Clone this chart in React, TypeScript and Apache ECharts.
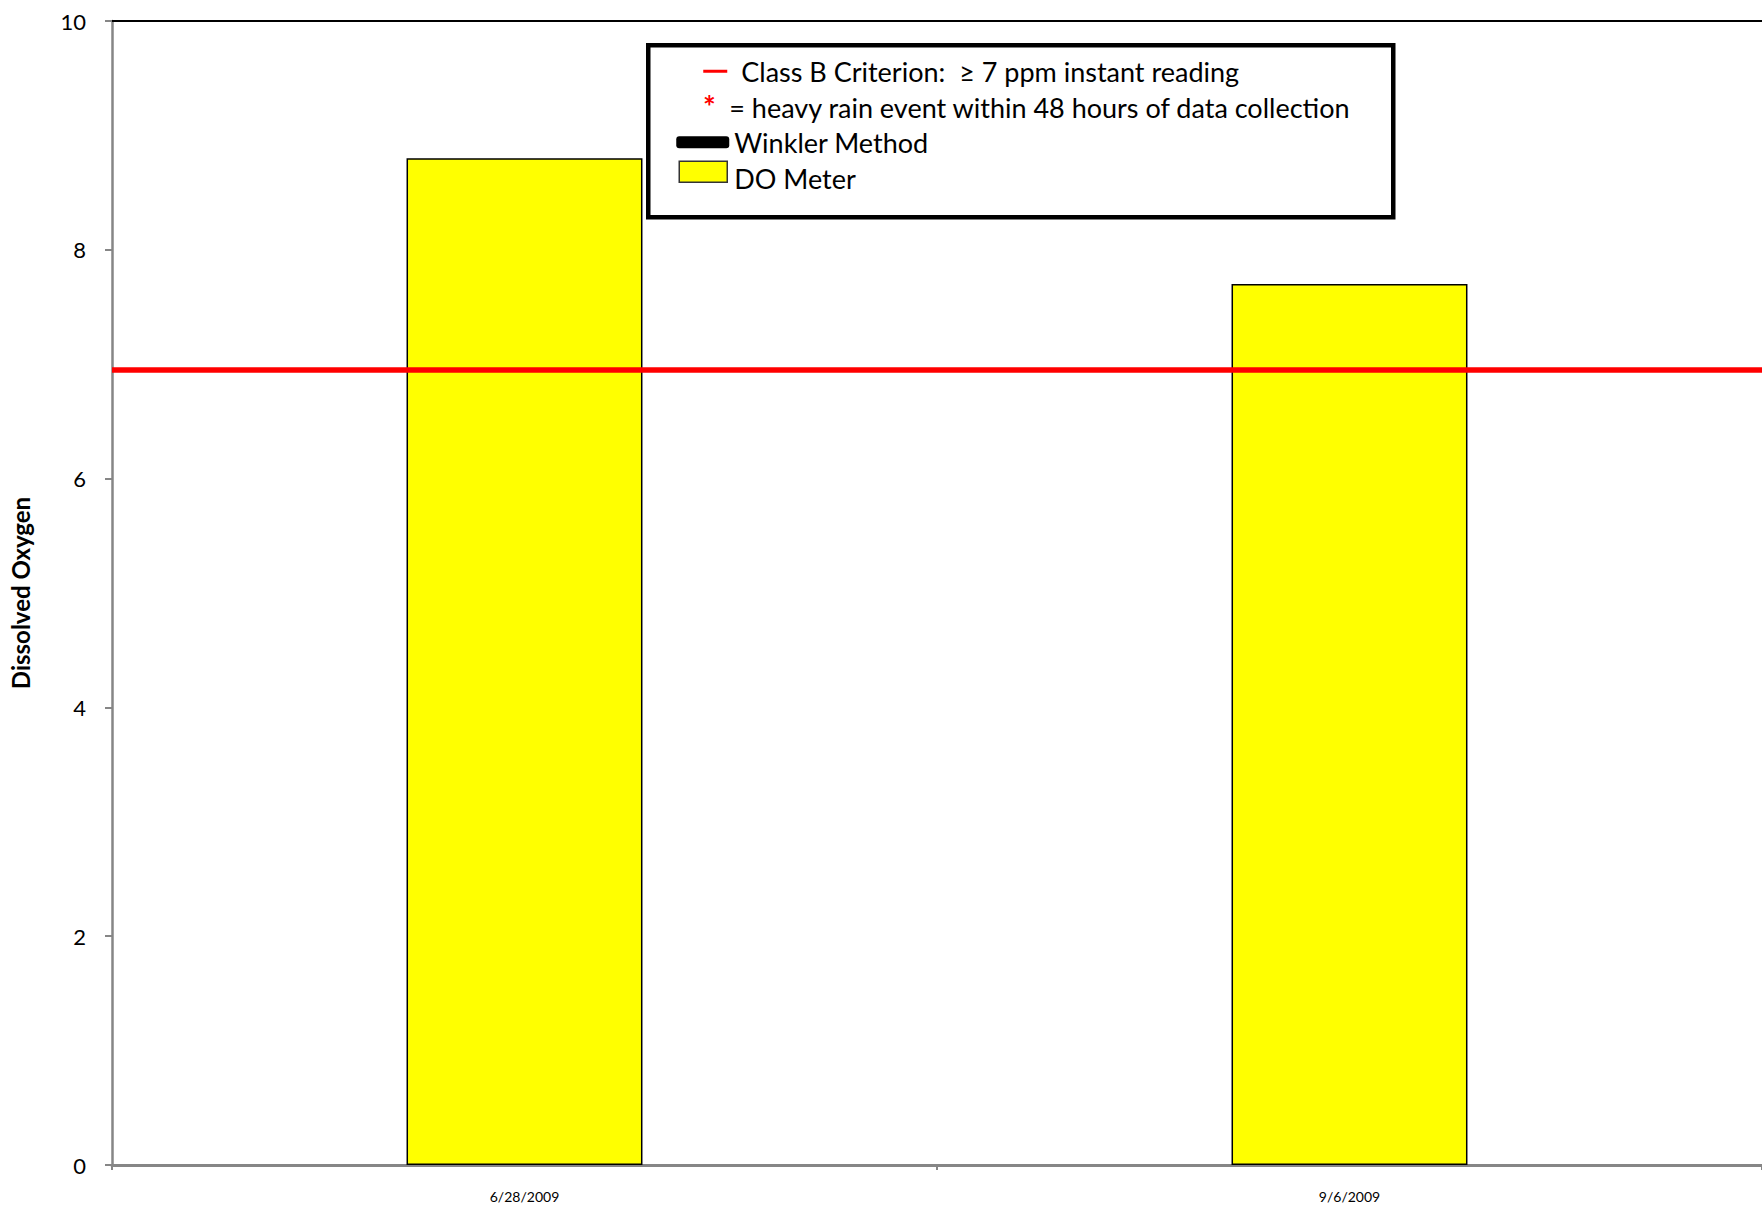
import React, { useEffect, useRef } from "react";
import * as echarts from "echarts";

// Sampling dates and dissolved oxygen readings (ppm)
const dates = ["6/28/2009", "9/6/2009"];
const doMeter = [8.8, 7.7];
const winkler: (number | null)[] = [null, null];
const criterion = 6.95;
const yTicks = [0, 2, 4, 6, 8, 10];

const FONT = "Lato, 'Open Sans', sans-serif";

export default function App() {
  const ref = useRef<HTMLDivElement>(null);

  useEffect(() => {
    if (!ref.current) return;
    const chart = echarts.init(ref.current, null, { renderer: "svg" });

    const legendX = 646;
    const legendY = 43;
    const rowFont = `27px ${FONT}`;

    chart.setOption({
      animation: false,
      backgroundColor: "#ffffff",
      grid: { left: 106, top: 21, right: 0, bottom: 44 },
      xAxis: [
        {
          type: "category",
          data: dates,
          axisLine: { lineStyle: { color: "#868686", width: 3 } },
          axisTick: { show: true, length: 5, lineStyle: { color: "#868686", width: 2 } },
          axisLabel: { fontFamily: FONT, fontSize: 14, color: "#000", margin: 24 },
          splitLine: { show: false },
        },
        {
          type: "category",
          position: "top",
          data: dates,
          axisLine: { lineStyle: { color: "#000", width: 2 } },
          axisTick: { show: false },
          axisLabel: { show: false },
        },
      ],
      yAxis: {
        type: "value",
        min: yTicks[0],
        max: yTicks[yTicks.length - 1],
        interval: 2,
        name: "Dissolved Oxygen",
        nameLocation: "middle",
        nameRotate: 90,
        nameGap: 80,
        nameTextStyle: { fontFamily: FONT, fontSize: 24, fontWeight: "bold", color: "#000" },
        axisLine: { show: true, lineStyle: { color: "#868686", width: 2.5 } },
        axisTick: { show: true, length: 7, lineStyle: { color: "#868686", width: 2 } },
        axisLabel: { fontFamily: FONT, fontSize: 22, color: "#000", margin: 26 },
        splitLine: { show: false },
      },
      series: [
        {
          name: "Winkler Method",
          type: "bar",
          data: winkler,
          barWidth: "28.6%",
          barGap: "-100%",
          itemStyle: { color: "#000" },
        },
        {
          name: "DO Meter",
          type: "bar",
          data: doMeter,
          barWidth: "28.6%",
          barGap: "-100%",
          itemStyle: { color: "#ffff00", borderColor: "#000", borderWidth: 1.5 },
          markLine: {
            silent: true,
            symbol: ["none", "none"],
            label: { show: false },
            lineStyle: { color: "#ff0000", width: 5.5, type: "solid" },
            data: [{ yAxis: criterion }],
          },
        },
      ],
      graphic: [
        {
          type: "group",
          left: legendX,
          top: legendY,
          children: [
            {
              type: "rect",
              shape: { x: 0, y: 0, width: 745, height: 172 },
              style: { fill: "#fff", stroke: "#000", lineWidth: 4.5 },
            },
            {
              type: "rect",
              shape: { x: 55, y: 24.5, width: 24, height: 3 },
              style: { fill: "#ff0000" },
            },
            {
              type: "text",
              x: 93,
              y: 26,
              style: {
                text: "Class B Criterion:  \u2265 7 ppm instant reading",
                font: rowFont,
                fill: "#000",
                verticalAlign: "middle",
              },
            },
            {
              type: "text",
              x: 61,
              y: 61,
              style: {
                text: "*",
                font: `bold 30px ${FONT}`,
                fill: "#ff0000",
                align: "center",
                verticalAlign: "middle",
              },
            },
            {
              type: "text",
              x: 81,
              y: 62,
              style: {
                text: "= heavy rain event within 48 hours of data collection",
                font: rowFont,
                fill: "#000",
                verticalAlign: "middle",
              },
            },
            {
              type: "rect",
              shape: { x: 28, y: 91, width: 53, height: 12, r: 3 },
              style: { fill: "#000" },
            },
            {
              type: "text",
              x: 86,
              y: 97,
              style: {
                text: "Winkler Method",
                font: rowFont,
                fill: "#000",
                verticalAlign: "middle",
              },
            },
            {
              type: "rect",
              shape: { x: 31, y: 116, width: 48, height: 21 },
              style: { fill: "#ffff00", stroke: "#333", lineWidth: 1.5 },
            },
            {
              type: "text",
              x: 86,
              y: 133,
              style: {
                text: "DO Meter",
                font: rowFont,
                fill: "#000",
                verticalAlign: "middle",
              },
            },
          ],
        },
      ],
    });

    return () => chart.dispose();
  }, []);

  return (
    <div
      ref={ref}
      style={{ position: "absolute", left: 0, top: 0, width: 1762, height: 1209 }}
    />
  );
}
